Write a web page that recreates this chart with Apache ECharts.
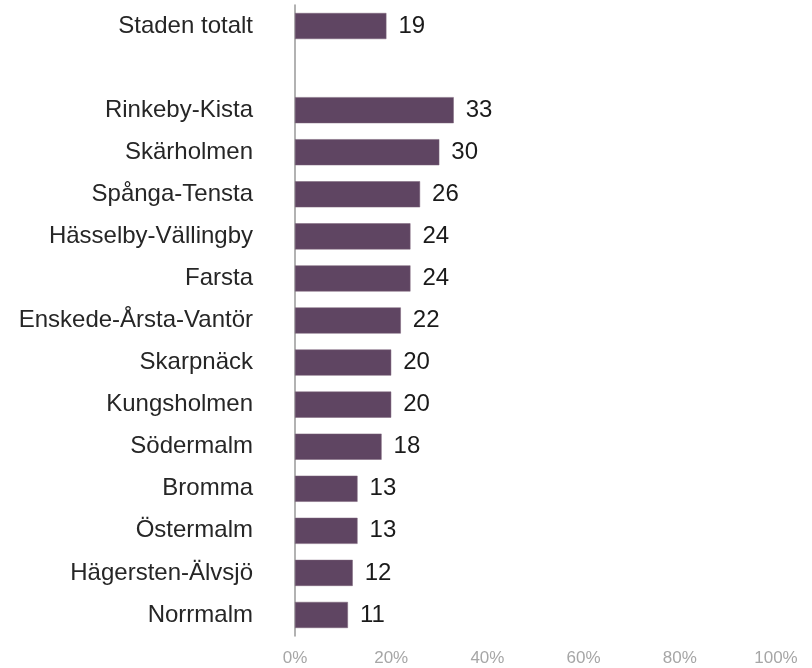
<!DOCTYPE html>
<html lang="sv">
<head>
    <meta charset="UTF-8">
    <title>Stadsdelar</title>
    <script src="https://cdn.jsdelivr.net/npm/echarts@6/dist/echarts.min.js"></script>
    <style>
        html, body, #chart {
            width: 812px;
            height: 668px;
            padding: 0;
            margin: 0;
            background: #fff;
        }
    </style>
</head>
<body>
<div id="chart"></div>
<script>
    // categories top to bottom, empty slot between total and districts
    var categories = ["Staden totalt", "", "Rinkeby-Kista", "Skärholmen", "Spånga-Tensta",
        "Hässelby-Vällingby", "Farsta", "Enskede-Årsta-Vantör", "Skarpnäck", "Kungsholmen",
        "Södermalm", "Bromma", "Östermalm", "Hägersten-Älvsjö", "Norrmalm"];
    var values = [19, null, 33, 30, 26, 24, 24, 22, 20, 20, 18, 13, 13, 12, 11];

    var myChart = echarts.init(document.getElementById("chart"));
    myChart.setOption({
        animation: false,
        grid: {
            left: 295,
            right: 36,
            top: 5,
            bottom: 32
        },
        xAxis: {
            type: "value",
            min: 0,
            max: 100,
            interval: 20,
            axisLine: {show: false},
            axisTick: {show: false},
            splitLine: {show: false},
            axisLabel: {
                formatter: "{value}%",
                color: "#a6a6a6",
                fontFamily: "Liberation Sans",
                fontSize: 17,
                margin: 14
            }
        },
        yAxis: {
            type: "category",
            inverse: true,
            data: categories,
            axisLine: {lineStyle: {color: "#999999", width: 1.5}},
            axisTick: {show: false},
            axisLabel: {
                color: "#262626",
                fontFamily: "Liberation Sans",
                fontSize: 24,
                margin: 42
            }
        },
        series: [{
            type: "bar",
            data: values,
            barWidth: "62%",
            itemStyle: {
                color: "#5f4562",
                borderColor: "#7a6279",
                borderWidth: 0.5
            },
            label: {
                show: true,
                position: "right",
                distance: 12,
                color: "#1a1a1a",
                fontFamily: "Liberation Sans",
                fontSize: 24
            }
        }]
    });
</script>
</body>
</html>
